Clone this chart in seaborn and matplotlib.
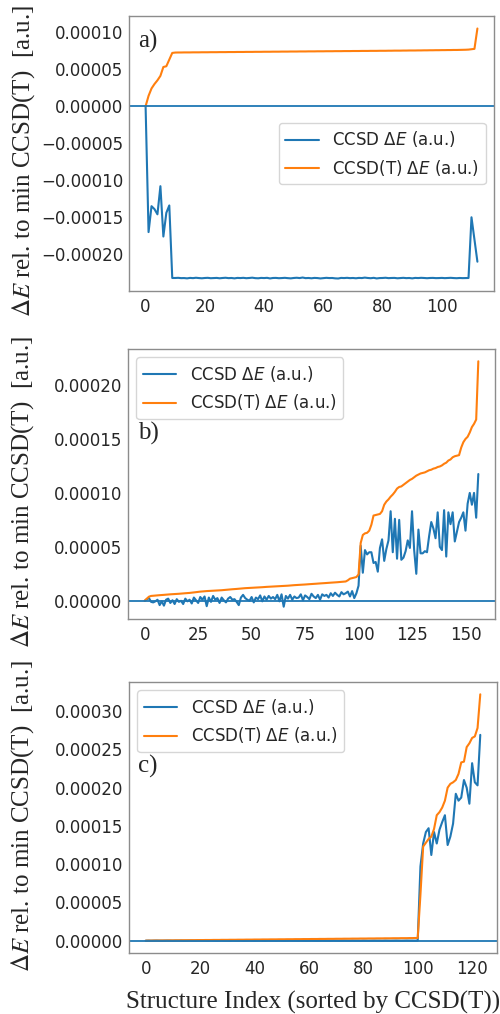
import numpy as np
import pandas as pd
import matplotlib
matplotlib.use("Agg")
import matplotlib.pyplot as plt
from matplotlib.ticker import MultipleLocator, FuncFormatter
import seaborn as sns

# values in units of 1e-5 a.u.
UNIT = 1e-5

# ---------------- panel a) ----------------
ccsdt_a = [0.00, 1.40, 2.40, 3.00, 3.50, 4.10, 5.30, 5.40, 6.30, 7.20,
           7.25, 7.26, 7.26, 7.27, 7.27, 7.27, 7.28, 7.28, 7.28, 7.29,
           7.29, 7.29, 7.30, 7.30, 7.30, 7.31, 7.31, 7.31, 7.32, 7.32,
           7.32, 7.33, 7.33, 7.33, 7.34, 7.34, 7.34, 7.35, 7.35, 7.35,
           7.36, 7.36, 7.36, 7.37, 7.37, 7.37, 7.38, 7.38, 7.38, 7.39,
           7.39, 7.39, 7.40, 7.40, 7.40, 7.41, 7.41, 7.41, 7.42, 7.42,
           7.42, 7.43, 7.43, 7.43, 7.44, 7.44, 7.44, 7.45, 7.45, 7.45,
           7.46, 7.46, 7.46, 7.47, 7.47, 7.47, 7.48, 7.48, 7.48, 7.49,
           7.49, 7.49, 7.50, 7.50, 7.51, 7.51, 7.51, 7.52, 7.52, 7.53,
           7.53, 7.53, 7.54, 7.54, 7.55, 7.55, 7.56, 7.56, 7.57, 7.57,
           7.58, 7.58, 7.59, 7.59, 7.60, 7.60, 7.61, 7.62, 7.63, 7.65,
           7.70, 7.75, 10.50]
ccsd_a = [0.00, -17.00, -13.50, -13.90, -14.60, -10.80, -17.60, -14.40, -13.40, -23.20,
          -23.20, -23.18, -23.22, -23.21, -23.25, -23.19, -23.22, -23.17, -23.21, -23.24,
          -23.20, -23.18, -23.23, -23.21, -23.19, -23.24, -23.20, -23.17, -23.22, -23.20,
          -23.25, -23.19, -23.21, -23.18, -23.23, -23.20, -23.16, -23.22, -23.24, -23.19,
          -23.21, -23.18, -23.26, -23.20, -23.19, -23.23, -23.21, -23.18, -23.22, -23.25,
          -23.20, -23.17, -23.21, -23.14, -23.22, -23.20, -23.24, -23.19, -23.21, -23.26,
          -23.22, -23.18, -23.21, -23.20, -23.25, -23.27, -23.19, -23.21, -23.18, -23.22,
          -23.20, -23.24, -23.19, -23.21, -23.15, -23.20, -23.23, -23.18, -23.26, -23.21,
          -23.20, -23.17, -23.22, -23.20, -23.19, -23.24, -23.21, -23.18, -23.22, -23.20,
          -23.25, -23.19, -23.21, -23.18, -23.20, -23.23, -23.20, -23.19, -23.22, -23.21,
          -23.19, -23.22, -23.20, -23.18, -23.21, -23.23, -23.20, -23.22, -23.21, -23.20,
          -15.00, -18.00, -21.00]

# ---------------- panel b) ----------------
ccsdt_b = [0.00, 0.20, 0.38, 0.45, 0.47, 0.49, 0.50, 0.52, 0.53, 0.55,
           0.57, 0.58, 0.60, 0.61, 0.62, 0.64, 0.65, 0.67, 0.68, 0.70,
           0.71, 0.73, 0.75, 0.77, 0.80, 0.83, 0.85, 0.87, 0.89, 0.90,
           0.91, 0.92, 0.93, 0.94, 0.95, 0.96, 0.98, 1.00, 1.02, 1.04,
           1.06, 1.07, 1.08, 1.10, 1.12, 1.14, 1.16, 1.17, 1.18, 1.19,
           1.20, 1.21, 1.22, 1.23, 1.25, 1.26, 1.28, 1.29, 1.30, 1.31,
           1.32, 1.33, 1.34, 1.35, 1.36, 1.37, 1.39, 1.40, 1.42, 1.43,
           1.45, 1.46, 1.47, 1.49, 1.50, 1.51, 1.53, 1.54, 1.55, 1.57,
           1.58, 1.60, 1.61, 1.62, 1.64, 1.65, 1.67, 1.68, 1.69, 1.71,
           1.72, 1.74, 1.75, 1.77, 1.79, 1.90, 2.05, 2.10, 2.15, 2.20,
           2.45, 5.36, 6.10, 6.25, 6.30, 6.50, 7.05, 7.90, 7.95, 8.00,
           8.05, 8.30, 8.90, 9.20, 9.40, 9.65, 9.85, 10.10, 10.40, 10.55,
           10.60, 10.75, 10.90, 11.05, 11.20, 11.30, 11.45, 11.60, 11.70, 11.80,
           11.85, 11.90, 12.00, 12.10, 12.15, 12.25, 12.30, 12.40, 12.45, 12.55,
           12.70, 12.80, 13.00, 13.10, 13.30, 13.40, 13.45, 13.50, 14.20, 14.70,
           15.00, 15.20, 15.60, 16.10, 16.40, 16.80, 22.20]
ccsd_b = [0.00, 0.15, 0.25, -0.10, -0.15, -0.05, 0.10, -0.40, -0.05, -0.45,
          0.10, 0.20, -0.20, 0.05, -0.30, 0.15, -0.10, 0.00, -0.30, 0.20,
          -0.05, 0.10, -0.25, 0.30, 0.05, -0.20, 0.35, 0.10, 0.40, -0.50,
          0.30, -0.10, 0.45, 0.10, 0.25, -0.20, 0.30, 0.05, -0.15, 0.20,
          0.35, 0.10, 0.15, -0.10, -0.40, 0.30, 0.55, 0.25, 0.10, 0.00,
          0.35, -0.15, 0.30, 0.15, 0.50, -0.05, 0.40, 0.10, 0.45, 0.20,
          0.35, 0.15, 0.55, -0.05, 0.60, -0.55, 0.45, 0.20, 0.55, 0.10,
          0.40, 0.25, 0.30, 0.60, 0.05, 0.50, 0.35, 0.15, 0.65, 0.40,
          0.25, 0.55, 0.10, 0.60, 0.45, 0.55, 0.30, 0.70, 0.45, 0.75,
          0.55, 0.40, 0.80, 0.60, 0.70, 0.85, 0.40, 0.90, 0.25, 0.70,
          1.40, 5.10, 2.60, 4.70, 4.30, 4.50, 4.50, 3.50, 3.60, 2.70,
          4.90, 5.70, 3.70, 4.80, 5.60, 8.30, 4.50, 7.60, 3.90, 7.50,
          3.80, 4.00, 4.60, 5.60, 4.90, 8.30, 4.70, 2.50, 6.60, 4.40,
          4.40, 4.60, 4.50, 6.00, 7.30, 6.70, 5.80, 8.20, 5.00, 4.70,
          8.40, 4.10, 8.20, 7.10, 8.20, 5.50, 6.40, 7.30, 7.70, 8.20,
          6.50, 9.00, 10.00, 8.90, 10.00, 7.70, 11.75]

# ---------------- panel c) ----------------
ccsdt_c = [0.00, 0.01, 0.01, 0.02, 0.02, 0.02, 0.03, 0.03, 0.03, 0.04,
           0.04, 0.05, 0.05, 0.05, 0.06, 0.06, 0.06, 0.07, 0.07, 0.08,
           0.08, 0.08, 0.09, 0.09, 0.09, 0.10, 0.10, 0.10, 0.11, 0.11,
           0.11, 0.12, 0.12, 0.12, 0.13, 0.13, 0.13, 0.14, 0.14, 0.14,
           0.15, 0.15, 0.15, 0.16, 0.16, 0.16, 0.17, 0.17, 0.17, 0.18,
           0.18, 0.18, 0.19, 0.19, 0.19, 0.20, 0.20, 0.20, 0.21, 0.21,
           0.21, 0.22, 0.22, 0.22, 0.23, 0.23, 0.23, 0.24, 0.24, 0.24,
           0.25, 0.25, 0.25, 0.26, 0.26, 0.26, 0.27, 0.27, 0.27, 0.28,
           0.28, 0.28, 0.29, 0.29, 0.29, 0.30, 0.30, 0.30, 0.31, 0.31,
           0.31, 0.32, 0.32, 0.32, 0.33, 0.33, 0.33, 0.34, 0.34, 0.35,
           0.35, 6.00, 12.30, 12.80, 13.30, 13.60, 14.60, 16.40, 16.80, 17.40,
           18.30, 20.00, 20.50, 20.70, 21.00, 21.80, 23.30, 23.40, 25.30, 25.80,
           26.50, 26.70, 27.80, 32.20]
ccsd_c = [0.00, 0.01, 0.00, 0.01, 0.02, 0.01, 0.00, 0.01, 0.02, 0.01,
          0.00, 0.01, 0.01, 0.02, 0.00, 0.01, 0.02, 0.01, 0.00, 0.01,
          0.02, 0.01, 0.01, 0.00, 0.02, 0.01, 0.00, 0.01, 0.02, 0.01,
          0.01, 0.00, 0.02, 0.01, 0.01, 0.02, 0.00, 0.01, 0.02, 0.01,
          0.00, 0.01, 0.02, 0.01, 0.00, 0.02, 0.01, 0.01, 0.00, 0.02,
          0.01, 0.00, 0.01, 0.02, 0.01, 0.01, 0.00, 0.02, 0.01, 0.00,
          0.01, 0.02, 0.01, 0.00, 0.01, 0.02, 0.01, 0.01, 0.00, 0.02,
          0.01, 0.00, 0.01, 0.02, 0.01, 0.00, 0.02, 0.01, 0.01, 0.00,
          0.02, 0.01, 0.00, 0.01, 0.02, 0.01, 0.01, 0.00, 0.02, 0.01,
          0.00, 0.01, 0.02, 0.01, 0.00, 0.01, 0.02, 0.01, 0.01, 0.00,
          0.01, 9.70, 12.70, 14.20, 14.70, 11.20, 14.20, 12.70, 14.50, 15.50,
          16.40, 12.50, 13.60, 15.30, 19.20, 18.30, 18.70, 21.00, 20.00, 17.90,
          23.20, 20.70, 20.30, 26.90]

x_steps = [20, 25, 20]
panel_tags = ["a)", "b)", "c)"]
legend_locs = ["center right", "upper left", "upper left"]
tag_pos = [(0.025, 0.909), (0.027, 0.689), (0.0245, 0.690)]
ylabel_y = [0.474, 0.472, 0.504]

ylabel_text = r"$\Delta E$ rel. to min CCSD(T)  [a.u.]"
xlabel_text = "Structure Index (sorted by CCSD(T))"
lab_ccsd = r"CCSD $\Delta E$ (a.u.)"
lab_ccsdt = r"CCSD(T) $\Delta E$ (a.u.)"

BLUE = "#1f77b4"
ORANGE = "#ff7f0e"

sns.set_style("white", {"axes.edgecolor": "0.55"})
plt.rcParams["font.family"] = ["DejaVu Sans"]
plt.rcParams["font.size"] = 12
plt.rcParams["axes.linewidth"] = 1.0

fig = plt.figure(figsize=(5.0, 10.14), dpi=100)
W, H = 500.0, 1014.0
boxes = [(129, 16, 494, 291), (128, 349, 495, 619), (129, 682, 497, 953)]

def fmt(v, pos):
    s = "%.5f" % v
    if s.startswith("-"):
        if float(s) == 0:
            s = s[1:]
        else:
            s = "\u2212" + s[1:]
    return s

panels = [(ccsd_a, ccsdt_a), (ccsd_b, ccsdt_b), (ccsd_c, ccsdt_c)]
for i, (c1, c2) in enumerate(panels):
    l, t, r, b = boxes[i]
    ax = fig.add_axes([l / W, 1 - b / H, (r - l) / W, (b - t) / H])
    df = pd.DataFrame({
        "idx": np.arange(len(c1)),
        "ccsd": np.array(c1) * UNIT,
        "ccsdt": np.array(c2) * UNIT,
    })
    sns.lineplot(data=df, x="idx", y="ccsd", ax=ax, color=BLUE, lw=1.5,
                 label=lab_ccsd)
    sns.lineplot(data=df, x="idx", y="ccsdt", ax=ax, color=ORANGE, lw=1.5,
                 label=lab_ccsdt)
    ax.axhline(0, color=BLUE, lw=1.3)
    ax.xaxis.set_major_locator(MultipleLocator(x_steps[i]))
    ax.yaxis.set_major_locator(MultipleLocator(5e-5))
    ax.yaxis.set_major_formatter(FuncFormatter(fmt))
    ax.tick_params(axis="x", length=0, pad=5, labelsize=12)
    ax.tick_params(axis="y", length=0, pad=4.3, labelsize=12)
    ax.legend(loc=legend_locs[i], fontsize=12)
    ax.set_ylabel(ylabel_text, fontfamily="Liberation Serif", fontsize=18,
                  math_fontfamily="stix", va="center")
    ax.yaxis.set_label_coords(-0.288, ylabel_y[i])
    ax.text(tag_pos[i][0], tag_pos[i][1], panel_tags[i], transform=ax.transAxes,
            fontfamily="Liberation Serif", fontsize=18, va="center", ha="left")
    if i == 2:
        ax.set_xlabel(xlabel_text, fontfamily="Liberation Serif", fontsize=18,
                      va="center")
        ax.xaxis.set_label_coords(0.5, -0.181)
    else:
        ax.set_xlabel("")

fig.savefig("out.png", dpi=100)
